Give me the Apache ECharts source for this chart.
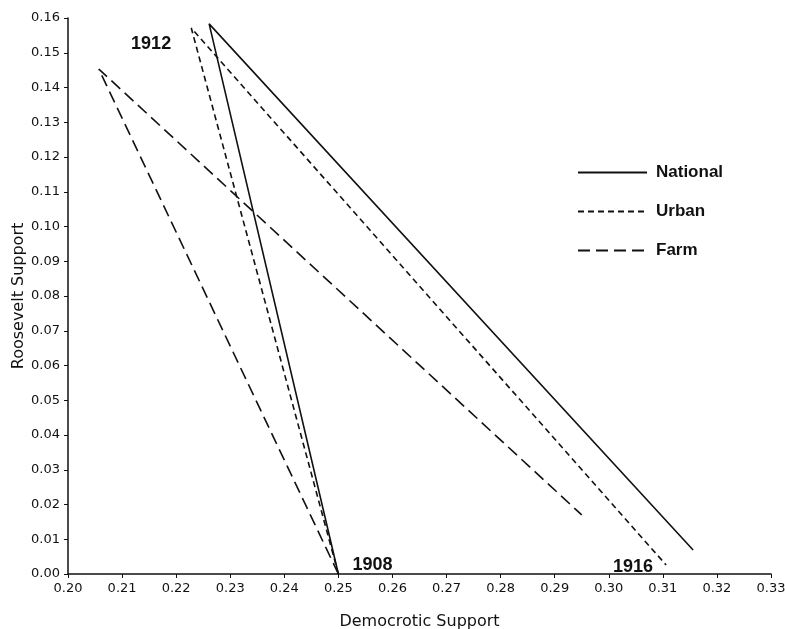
<!DOCTYPE html>
<html><head><meta charset="utf-8">
<script src="https://cdn.jsdelivr.net/npm/echarts@6/dist/echarts.min.js"></script>
<style>html,body{margin:0;padding:0;background:#fff}#c{width:785px;height:629px}</style>
</head><body><div id="c"></div>
<script>
const years = ['1908', '1912', '1916'];
const nationalDem = [0.250, 0.2261, 0.3156];
const nationalRoos = [0.000, 0.1583, 0.0069];
const urbanDem = [0.250, 0.2228, 0.3106];
const urbanRoos = [0.000, 0.1571, 0.0026];
const farmDem = [0.250, 0.2057, 0.2950];
const farmRoos = [0.000, 0.1453, 0.0170];

const zip = (xs, ys) => xs.map((x, i) => [x, ys[i]]);
const yearLabel = (txt, pos, off) => ({
  show: true, formatter: txt, position: pos, offset: off,
  fontFamily: 'Liberation Sans', fontWeight: 'bold', fontSize: 18, color: '#111'
});

const natData = zip(nationalDem, nationalRoos).map(v => ({ value: v }));
natData[0].label = yearLabel(years[0], 'right', [9, -9]);
natData[1].label = yearLabel(years[1], 'left', [-33, 20]);
const urbData = zip(urbanDem, urbanRoos).map(v => ({ value: v }));
urbData[2].label = yearLabel(years[2], 'left', [-8, 2]);

const lineBase = { type: 'line', symbol: 'circle', symbolSize: 0, showSymbol: true, animation: false,
  label: { show: false }, emphasis: { disabled: true } };
const chart = echarts.init(document.getElementById('c'));
chart.setOption({
  animation: false,
  grid: { left: 68, right: 14, top: 18, bottom: 55, containLabel: false, outerBoundsMode: 'none' },
  legend: {
    orient: 'vertical', left: 572, top: 159, itemWidth: 69, itemHeight: 14, itemGap: 22,
    data: ['National', 'Urban', 'Farm'],
    itemStyle: { opacity: 0 },
    textStyle: { fontFamily: 'Liberation Sans', fontWeight: 'bold', fontSize: 17, color: '#111', padding: [0, 0, 0, 4] }
  },
  xAxis: {
    type: 'value', min: 0.2, max: 0.33, interval: 0.01,
    name: 'Democrotic Support', nameLocation: 'middle', nameGap: 40, nameMoveOverlap: false,
    nameTextStyle: { fontFamily: 'DejaVu Sans', fontSize: 16, color: '#111' },
    axisLine: { lineStyle: { color: '#111', width: 1.5 } },
    axisTick: { length: 4, lineStyle: { color: '#111' } },
    axisLabel: { formatter: v => v.toFixed(2), fontFamily: 'DejaVu Sans', fontSize: 13, color: '#111', margin: 8 },
    splitLine: { show: false }
  },
  yAxis: {
    type: 'value', min: 0, max: 0.16, interval: 0.01,
    name: 'Roosevelt Support', nameLocation: 'middle', nameGap: 41, nameMoveOverlap: false,
    nameTextStyle: { fontFamily: 'DejaVu Sans', fontSize: 16, color: '#111' },
    axisLine: { show: true, lineStyle: { color: '#111', width: 1.5 } },
    axisTick: { show: true, length: 4, lineStyle: { color: '#111' } },
    axisLabel: { formatter: v => v.toFixed(2), fontFamily: 'DejaVu Sans', fontSize: 13, color: '#111', margin: 8 },
    splitLine: { show: false }
  },
  series: [
    Object.assign({}, lineBase, { name: 'National', data: natData,
      lineStyle: { color: '#111', width: 1.6, type: 'solid' }, itemStyle: { color: '#111' } }),
    Object.assign({}, lineBase, { name: 'Urban', data: urbData,
      lineStyle: { color: '#111', width: 1.6, type: [6, 4] }, itemStyle: { color: '#111' } }),
    Object.assign({}, lineBase, { name: 'Farm', data: zip(farmDem, farmRoos),
      lineStyle: { color: '#111', width: 1.6, type: [12, 6] }, itemStyle: { color: '#111' } })
  ]
});
</script></body></html>
